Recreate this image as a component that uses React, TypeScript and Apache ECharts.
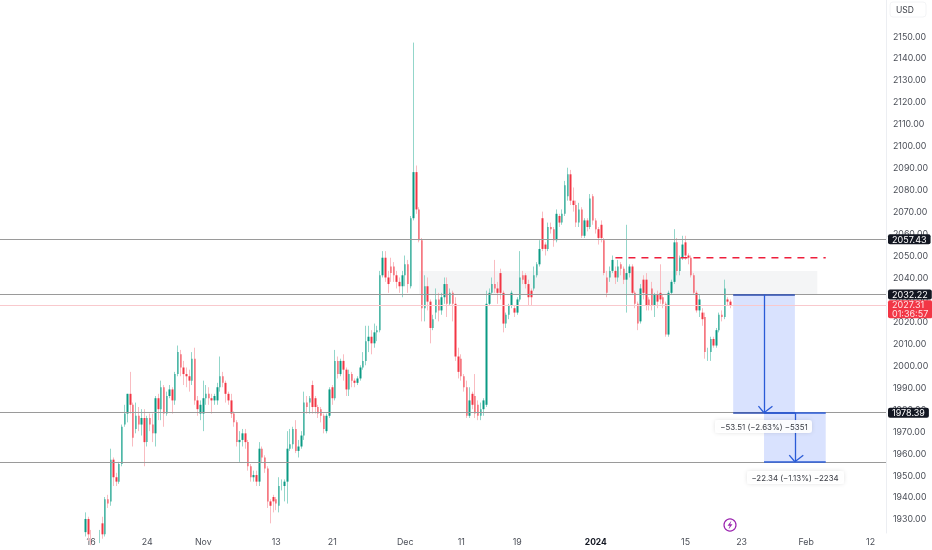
import React, { useEffect, useRef } from "react";
import * as echarts from "echarts";

const opens = [
1924,1930,1923,1921,1919,1921,1928,1923,1939,1938,
1957,1949,1947,1955,1973,1978,1987,1982,1971,1977,
1973,1976,1965,1976,1973,1969,1985,1980,1990,1978,
1986,1989,1984,1996,2005,1999,1996,1995,1993,2003,
1984,1978,1978,1985,1987,1985,1984,1984,1990,1995,
1992,1987,1984,1978,1974,1965,1966,1969,1965,1954,
1949,1950,1947,1962,1958,1953,1938,1940,1939,1936,
1945,1945,1947,1962,1964,1971,1961,1963,1968,1983,
1983,1991,1985,1981,1980,1977,1970,1977,1990,1985,
2002,1996,2002,1998,1989,1996,1993,1992,1994,1999,
2002,2011,2013,2010,2015,2016,2041,2049,2040,2045,
2045,2041,2038,2036,2041,2046,2036,2067,2088,2071,
2057,2026,2036,2029,2017,2024,2030,2025,2031,
2037,2028,2033,2028,2004,2003,1995,1990,1977,1987,
1986,1982,1977,1980,1982,2028,2033,2037,2035,2042,
2033,2019,2023,2027,2026,2024,2030,2041,2041,
2037,2034,2035,2041,2046,2067,2055,2053,
2063,2062,2057,2068,2065,2069,2077,2087,2075,2073,
2065,2071,2059,2066,2063,2077,2066,2062,2064,
2057,2040,2040,2043,2043,2040,2046,2044,2039,2042,
2045,2033,2028,2020,2039,2039,2030,2035,2027,
2032,2033,2031,2028,2014,2033,2038,2056,2043,2049,
2056,2050,2049,2041,2033,2025,2024,2022,2006,2006,2012,2009,2016,2023,2022,2030,2029];
const closes = [
1930,1923,1921,1919,1921,1923,1923,1939,1937,1957,
1949,1947,1955,1972,1978,1987,1982,1967,1977,1973,
1976,1965,1976,1973,1969,1985,1980,1990,1978,1986,
1989,1984,1996,2006,1999,1996,1995,1993,2003,1984,
1980,1982,1985,1987,1985,1984,1986,1990,1995,1992,
1987,1984,1978,1974,1965,1966,1969,1965,1954,1949,
1950,1947,1962,1958,1953,1938,1936,1938,1937,1945,
1945,1947,1962,1964,1971,1961,1963,1968,1983,1981,
1985,1981,1981,1978,1977,1971,1977,1989,1985,2002,
1996,2002,1998,1989,1996,1993,1992,1994,1999,2002,
2011,2013,2010,2015,2016,2041,2049,2040,2037,2042,
2041,2038,2036,2041,2046,2037,2067,2088,2071,2057,
2026,2036,2029,2017,2021,2030,2025,2031,2037,
2028,2033,2028,2004,1997,1995,1990,1977,1984,1982,
1978,1977,1980,1984,2028,2033,2037,2035,2033,2033,
2019,2023,2027,2033,2024,2030,2040,2039,2037,
2031,2031,2041,2046,2053,2053,2053,2063,
2062,2057,2069,2065,2069,2082,2087,2075,2073,2065,
2071,2059,2066,2063,2076,2066,2062,2058,2058,
2042,2033,2043,2048,2040,2045,2044,2039,2042,2045,
2033,2028,2019,2035,2033,2027,2027,2027,2032,
2029,2030,2028,2014,2033,2038,2056,2043,2049,2055,
2050,2049,2041,2033,2025,2030,2021,2006,2006,2012,2009,2016,2023,2022,2035,2029,2027.31];
const lows = [
1922,1920,1918,1916,1917,1919,1921,1922,1935,1936,
1945,1945,1946,1954,1972,1974,1978,1963,1969,1970,
1968,1954,1963,1970,1965,1963,1975,1975,1972,1977,
1985,1978,1982,1995,1995,1991,1990,1988,1991,1982,
1977,1975,1970,1982,1982,1978,1982,1982,1988,1990,
1983,1982,1976,1972,1963,1956,1963,1962,1952,1947,
1947,1945,1945,1956,1951,1935,1928,1933,1934,1933,
1943,1938,1937,1961,1962,1960,1958,1962,1966,1978,
1978,1978,1978,1976,1974,1969,1969,1976,1982,1984,
1994,1995,1993,1986,1986,1990,1990,1991,1993,1998,
2000,2006,2005,2008,2011,2015,2040,2038,2033,2038,
2038,2035,2033,2031,2036,2033,2035,2066,2069,2056,
2020,2020,2025,2010,2016,2021,2020,2023,2028,
2022,2027,2020,2002,1994,1993,1988,1976,1976,1980,
1976,1975,1975,1977,1981,2027,2032,2033,2028,2030,
2015,2017,2021,2026,2022,2023,2029,2037,2035,
2027,2027,2034,2040,2045,2052,2050,2052,
2060,2054,2056,2063,2064,2068,2075,2073,2070,2063,
2063,2058,2058,2061,2062,2064,2060,2055,2056,
2041,2031,2038,2042,2037,2038,2041,2037,2024,2040,
2032,2026,2016,2019,2030,2025,2025,2025,2022,
2026,2028,2026,2013,2013,2032,2037,2041,2041,2048,
2048,2046,2040,2032,2024,2022,2018,2003,2002,2002,2008,2008,2015,2020,2021,2027,2026];
const highs = [
1933,1931,1925,1923,1922,1925,1931,1940,1941,1962,
1958,1951,1956,1973,1982,1987,1997,1983,1983,1981,
1980,1980,1977,1978,1978,1986,1987,1993,1991,1988,
1991,1990,1997,2009,2007,2002,1999,1998,2006,2008,
1986,1984,1993,1991,1990,1987,1987,1992,2004,1997,
1993,1988,1987,1979,1975,1970,1971,1971,1966,1955,
1952,1952,1965,1963,1959,1954,1939,1941,1940,1949,
1948,1948,1970,1971,1972,1975,1966,1970,1988,1986,
1986,1993,1986,1982,1981,1978,1978,1990,1991,2007,
2004,2003,2005,1999,1998,1997,1994,1995,2000,2006,
2018,2018,2016,2019,2018,2043,2052,2052,2043,2049,
2047,2043,2040,2043,2050,2048,2068,2147,2091,2072,
2058,2041,2040,2030,2023,2035,2033,2033,2040,
2040,2035,2034,2031,2008,2005,1996,1993,1990,1988,
1996,1984,1983,1985,2034,2035,2040,2048,2038,2044,
2034,2024,2028,2034,2027,2031,2052,2043,2042,
2039,2035,2045,2047,2057,2070,2056,2065,
2065,2063,2071,2069,2071,2084,2090,2089,2081,2075,
2074,2072,2067,2067,2078,2078,2067,2063,2066,
2058,2043,2045,2050,2045,2048,2047,2045,2064,2046,
2046,2034,2029,2037,2041,2042,2031,2038,2033,
2034,2046,2032,2029,2034,2039,2062,2058,2050,2059,
2059,2051,2050,2042,2034,2032,2026,2024,2008,2013,2013,2017,2024,2025,2039,2031,2030];

const priceTicks = [1930,1940,1950,1960,1970,1980,1990,2000,2010,2020,2030,2040,2050,2060,2070,2080,2090,2100,2110,2120,2130,2140,2150];
const timeLabels = ["16","24","Nov","13","21","Dec","11","19","2024","15","23","Feb","12"];
const timeSlots = [32,52,72,98,118,144,164,184,212,244,264,287,310];

const SLOTS = 316;
const FIRST_SLOT = 30;
const GREEN = "#0b9a84";
const RED = "#f23645";
const GREEN_WICK = "#93d6ca";
const RED_WICK = "#f9bcc1";
const slotNames = Array.from({ length: SLOTS }, (_, i) => String(i));

const levels = [2057.43, 2032.22, 1978.39];
const lowerLevel = 1956.05;
const lastPrice = 2027.31;
const dashedLevel = 2049;
const dashedSlots = [219, 294];

export default function App() {
  const ref = useRef<HTMLDivElement>(null);
  useEffect(() => {
    const chart = echarts.init(ref.current!, null, { renderer: "svg" });
    const pad = (row: number[]) => Array(FIRST_SLOT).fill("-").concat(row as any);
    const wickData = pad(opens.map((o, i) => [o, closes[i], lows[i], highs[i]]) as any);
    const bodyData = pad(opens.map((o, i) => [o, closes[i], Math.min(o, closes[i]), Math.max(o, closes[i])]) as any);
    const tag = (text: string) => ({
      show: true, position: "end", distance: 2, formatter: text, color: "#fff",
      backgroundColor: "#131722", padding: [0, 4, 0, 4], borderRadius: 2, lineHeight: 10,
      fontSize: 9, fontFamily: "Inter",
    });
    const grayLine = { color: "#9a9a9a", width: 1.2, type: "solid" };
    const blue = { color: "#2a5bd7", width: 1.3, type: "solid" };
    const seg = (a: number[], b: number[], lineStyle: any) => [
      { coord: a, lineStyle }, { coord: b },
    ];
    const arrow = (x: number, top: number, bottom: number) => [
      seg([x, top], [x, bottom], blue),
      seg([x - 2.5, bottom + 3], [x, bottom], blue),
      seg([x + 2.5, bottom + 3], [x, bottom], blue),
    ];
    chart.setOption({
      animation: false,
      backgroundColor: "#ffffff",
      grid: { left: 0, top: 0, width: 886, height: 533, outerBoundsMode: "none" },
      xAxis: {
        type: "category", data: slotNames, boundaryGap: true,
        axisLine: { show: false }, axisTick: { show: false }, splitLine: { show: false },
        axisLabel: {
          interval: (i: number) => timeSlots.includes(i), margin: 4, hideOverlap: false,
          color: "#4a4e57", fontSize: 8.8, fontFamily: "Inter",
          formatter: (_: string, i: number) => {
            const t = timeLabels[timeSlots.indexOf(i)];
            return t === "2024" ? "{b|2024}" : t;
          },
          rich: { b: { fontWeight: "bold", color: "#131722", fontSize: 8.5, fontFamily: "Inter" } },
        },
      },
      yAxis: {
        type: "value", position: "right", min: 1923.6, max: 2166.4, scale: true,
        axisLine: { show: true, lineStyle: { color: "#eceef2" } }, axisTick: { show: false },
        splitLine: { show: false },
        axisLabel: {
          customValues: priceTicks, margin: 7, color: "#4a4e57", fontSize: 8.8, fontFamily: "Inter",
          formatter: (v: number) => v.toFixed(2),
        },
      },
      series: [
        {
          type: "candlestick", data: wickData, barWidth: 1, clip: true, z: 3,
          itemStyle: { color: "transparent", color0: "transparent", borderColor: GREEN_WICK, borderColor0: RED_WICK, borderWidth: 1 },
          markArea: {
            silent: true, z: 1,
            data: [
              [{ xAxis: "149", yAxis: 2043, itemStyle: { color: "#f4f5f6" } }, { xAxis: "291", yAxis: levels[1] }],
              [{ xAxis: "261", yAxis: levels[1], itemStyle: { color: "#d9e2fe" } }, { xAxis: "283", yAxis: levels[2] }],
              [{ xAxis: "272", yAxis: levels[2], itemStyle: { color: "#d9e2fe" } }, { xAxis: "294", yAxis: lowerLevel }],
            ],
          },
          markLine: {
            silent: true, symbol: "none", animation: false, z: 6,
            data: [
              { yAxis: lastPrice, lineStyle: { color: "#f9c9cd", width: 1, type: "solid" },
                label: { show: true, position: "end", distance: 2, offset: [0, 4], formatter: "2027.31\n01:36:57", color: "#ffe3e5",
                  backgroundColor: RED, padding: [0, 4, 0, 4], borderRadius: 2, fontSize: 9, lineHeight: 9, fontFamily: "Inter" } },
              { yAxis: levels[0], lineStyle: grayLine, label: tag("2057.43") },
              { yAxis: levels[1], lineStyle: grayLine, label: tag("2032.22") },
              { yAxis: levels[2], lineStyle: grayLine, label: tag("1978.39") },
              { yAxis: lowerLevel, lineStyle: grayLine, label: { show: false } },
              ...[
                seg([261, levels[1]], [283, levels[1]], { color: "#2b4db0", width: 1.5, type: "solid" }),
                seg([261, levels[2]], [283, levels[2]], { color: "#2b4db0", width: 1.5, type: "solid" }),
                seg([272, levels[2]], [294, levels[2]], { color: "#2a5bd7", width: 1.5, type: "solid" }),
                seg([272, lowerLevel], [294, lowerLevel], { color: "#2a5bd7", width: 1.5, type: "solid" }),
                ...arrow(272, levels[1], levels[2]),
                ...arrow(283, levels[2], lowerLevel),
              ].map((d: any) => [{ ...d[0], label: { show: false } }, d[1]]),
            ],
          },
        },
        {
          type: "candlestick", data: bodyData, barWidth: 2, clip: true, z: 4,
          itemStyle: { color: GREEN, color0: RED, borderColor: GREEN, borderColor0: RED, borderWidth: 0 },
        },
        {
          type: "line", symbol: "none", silent: true, z: 5,
          data: dashedSlots.map((s) => [String(s), dashedLevel]),
          lineStyle: { color: "#ee1f3c", width: 1.4, type: [7, 6] },
        },
      ],
      graphic: [
        { type: "rect", z: 50, shape: { x: 715, y: 420, width: 97, height: 13, r: 3 },
          style: { fill: "rgba(255,255,255,0.92)", shadowBlur: 4, shadowColor: "rgba(0,0,0,0.12)" } },
        { type: "text", z: 51, x: 764, y: 426.5, style: { text: "−53.51 (−2.63%) −5351", fill: "#3a3d45", fontSize: 7.9, fontFamily: "Inter", textAlign: "center", textVerticalAlign: "middle" } },
        { type: "rect", z: 50, shape: { x: 747, y: 471, width: 97, height: 13, r: 3 },
          style: { fill: "rgba(255,255,255,0.92)", shadowBlur: 4, shadowColor: "rgba(0,0,0,0.12)" } },
        { type: "text", z: 51, x: 795, y: 477.5, style: { text: "−22.34 (−1.13%) −2234", fill: "#3a3d45", fontSize: 7.9, fontFamily: "Inter", textAlign: "center", textVerticalAlign: "middle" } },
        { type: "rect", z: 50, shape: { x: 890, y: 2, width: 36, height: 15, r: 3 }, style: { fill: "#ffffff", stroke: "#f3f4f6", lineWidth: 1 } },
        { type: "text", z: 51, x: 896, y: 10, style: { text: "USD", fill: "#3a3d45", fontSize: 8.5, fontFamily: "Inter", textVerticalAlign: "middle" } },
        { type: "circle", z: 50, shape: { cx: 730, cy: 525, r: 6 }, style: { fill: "#fff", stroke: "#9c27b0", lineWidth: 1.2 } },
        { type: "polygon", z: 51, shape: { points: [[731.5, 520.5], [727.5, 525.8], [729.8, 525.8], [728.5, 529.5], [732.5, 524.2], [730.2, 524.2]] }, style: { fill: "#9c27b0" } },
      ],
    });
    return () => chart.dispose();
  }, []);
  return <div ref={ref} style={{ position: "fixed", left: 0, top: 0, width: 932, height: 550, background: "#fff", filter: "blur(0.4px)" }} />;
}
